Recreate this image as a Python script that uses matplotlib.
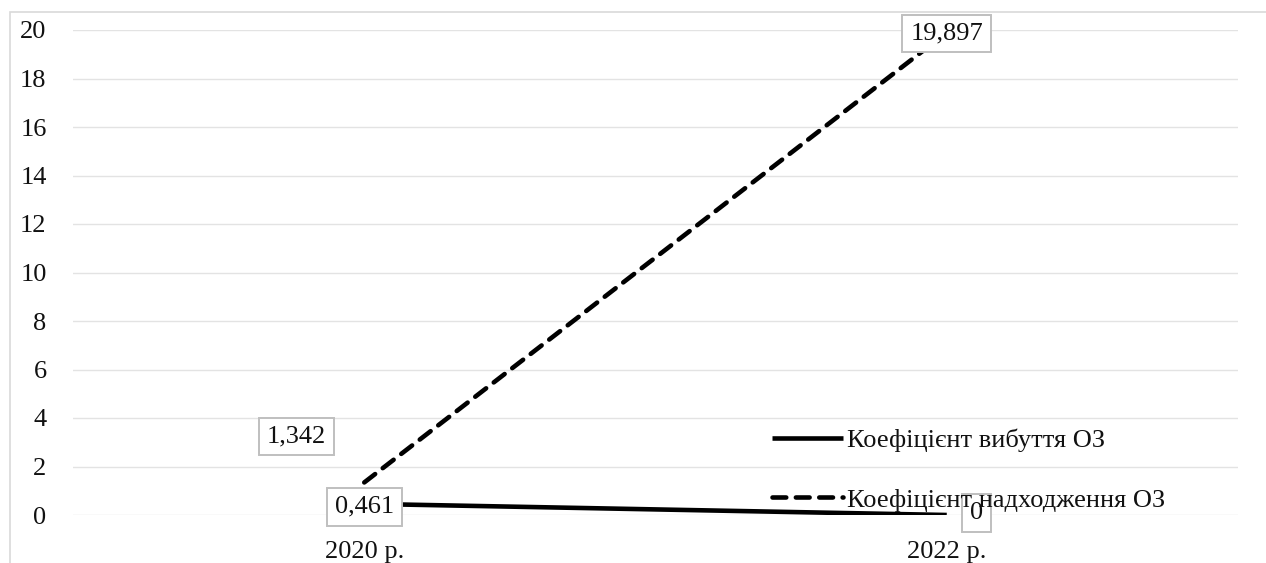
import matplotlib
matplotlib.use("Agg")
import matplotlib.pyplot as plt
from matplotlib.patches import Rectangle

plt.rcParams['font.family'] = ['Liberation Serif', 'DejaVu Serif']

years = ["2020 р.", "2022 р."]
disposal = [0.461, 0.0]
receipt = [1.342, 19.897]
disposal_name = "Коефіцієнт вибуття ОЗ"
receipt_name = "Коефіцієнт надходження ОЗ"
y_ticks = [0, 2, 4, 6, 8, 10, 12, 14, 16, 18, 20]

FS = 19
TXT = "#111111"
W, H = 1266, 563
fig = plt.figure(figsize=(W / 100, H / 100), dpi=100)
ax = fig.add_axes([73 / W, 1 - 515 / H, (1238 - 73) / W, (515 - 30) / H])

# outer chart frame
fig.patches.append(Rectangle((10 / W, -0.1), 1.2, 1 - 12 / H + 0.1,
                             transform=fig.transFigure, fill=False,
                             edgecolor="#d9d9d9", linewidth=1.2))

x = list(range(len(years)))
ax.plot(x, disposal, color="black", linewidth=3.3, solid_capstyle="butt",
        label=disposal_name, zorder=3)
ax.plot(x, receipt, color="black", linewidth=3.3, linestyle=(0, (3.0, 2.1)),
        dash_capstyle="round", label=receipt_name, zorder=3)

ax.set_xlim(-0.5, len(years) - 0.5)
ax.set_ylim(0, 20)
ax.set_yticks(y_ticks)
ax.set_yticklabels([str(t) for t in y_ticks])
ax.set_xticks(x)
ax.set_xticklabels(years)
ax.tick_params(length=0, labelsize=FS, colors=TXT)
ax.tick_params(axis="y", pad=19)
ax.tick_params(axis="x", pad=19)
for s in ax.spines.values():
    s.set_visible(False)
ax.grid(axis="y", color="#e3e3e3", linewidth=1)
ax.set_axisbelow(True)

box = dict(boxstyle="square,pad=0.3", facecolor="white", edgecolor="#bfbfbf", linewidth=1.4)

def fmt(v):
    return f"{v:g}".replace(".", ",")

# data labels
ax.annotate(fmt(disposal[0]), (x[0], disposal[0]), xytext=(0, -3), textcoords="offset pixels",
            ha="center", va="center", fontsize=FS, color=TXT, bbox=box, zorder=4)
ax.annotate(fmt(disposal[1]), (x[1], disposal[1]), xytext=(30, 2), textcoords="offset pixels",
            ha="center", va="center", fontsize=FS, color=TXT, bbox=box, zorder=4)
ax.annotate(fmt(receipt[0]), (x[0], receipt[0]), xytext=(-68, 46), textcoords="offset pixels",
            ha="center", va="center", fontsize=FS, color=TXT, bbox=box, zorder=4)
ax.annotate(fmt(receipt[1]), (x[1], receipt[1]), xytext=(0, -1), textcoords="offset pixels",
            ha="center", va="center", fontsize=FS, color=TXT, bbox=box, zorder=4)

leg = ax.legend(loc="upper left", bbox_to_anchor=(772 / W, 1 - 429 / H),
                bbox_transform=fig.transFigure, frameon=False, fontsize=FS,
                handlelength=2.7, handletextpad=0.15, labelspacing=1.35,
                borderpad=0, borderaxespad=0)
for t in leg.get_texts():
    t.set_color(TXT)

fig.savefig("out.png", dpi=100, facecolor="white")
